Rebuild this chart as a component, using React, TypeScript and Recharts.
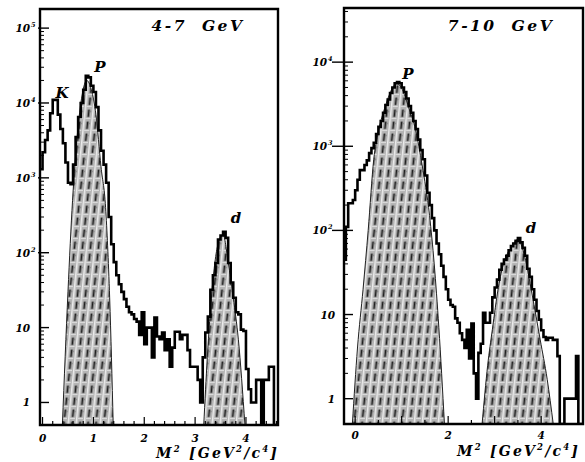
import React from "react";
import { Area, ComposedChart, Line, ReferenceArea, XAxis, YAxis } from "recharts";

const BIN = 0.05;

// 4-7 GeV panel: counts per bin, first bin starts at LEFT_START
const LEFT_START = -0.05;
const leftCounts = [
  1300, 2200, 3200, 4300, 7300, 11000, 11000, 7000, 4500, 2900,
  1600, 860, 820, 1500, 3500, 6500, 10000, 15000, 23000, 22000,
  17000, 14000, 8800, 4300, 2300, 1500, 860, 300, 130, 75,
  50, 38, 30, 24, 19, 16, 15, 13, 12, 8,
  16, 6, 10, 10, 4, 13.6, 7.6, 7, 8.6, 5,
  7, 3, 5.4, 8.8, 8.8, 7, 8, 8, 5, 3,
  3, 3, 2, 1, 4, 8.6, 14, 32, 50, 73,
  150, 170, 190, 158, 73, 40, 25, 16, 15, 9.4,
  9, 2.8, 1.5, 1, 1, 2, 2, 0, 2, 2,
  3, 3, 0, 0,
];
const leftPFillX = [0.39, 0.5, 0.59, 0.68, 0.78, 0.87, 0.96, 1.05, 1.15, 1.24, 1.32, 1.39];
const leftPFillY = [0.5, 30, 500, 3500, 13000, 20000, 15000, 7000, 1400, 400, 25, 0.5];
const leftDFillX = [3.17, 3.24, 3.33, 3.45, 3.55, 3.65, 3.75, 3.85, 3.98];
const leftDFillY = [0.5, 4, 30, 130, 175, 75, 25, 7, 0.5];

// 7-10 GeV panel
const RIGHT_START = -0.25;
const rightCounts = [
  45, 110, 210, 210, 230, 300, 400, 520, 520, 600,
  680, 830, 950, 1100, 1400, 1700, 2000, 2500, 3100, 3600,
  4300, 5000, 5600, 5800, 5600, 5000, 4400, 3700, 3000, 2500,
  2000, 1600, 1200, 900, 700, 450, 280, 200, 140, 100,
  70, 52, 38, 28, 20, 15, 13, 12.4, 9, 8,
  6, 5, 4, 6.6, 3, 7.8, 2, 1, 3.5, 4.5,
  10.5, 8, 8, 10.5, 16, 21, 26, 34, 40, 45,
  50, 58, 65, 70, 75, 81, 72, 62, 50, 35,
  28, 20, 15, 11, 8.7, 6.5, 5.4, 5, 5.3, 5.3,
  5, 5, 3.2, 0, 0, 1, 1, 1, 1, 1,
  3.2, 0, 0,
];
const rightPFillX = [-0.06, 0.05, 0.17, 0.28, 0.4, 0.5, 0.65, 0.8, 0.9, 1.0, 1.15, 1.3, 1.44, 1.6, 1.7, 1.8, 1.92];
const rightPFillY = [0.5, 4, 20, 100, 700, 1500, 3000, 4900, 5600, 4900, 2900, 1550, 600, 150, 40, 7, 0.5];
const rightDFillX = [2.73, 2.85, 2.95, 3.08, 3.2, 3.35, 3.5, 3.65, 3.8, 3.98, 4.13, 4.26];
const rightDFillY = [0.5, 2.5, 6.6, 21, 42, 62, 78, 48, 18, 5, 1.7, 0.5];

const leftXTicks = [0, 0.2, 0.4, 0.6, 0.8, 1, 1.2, 1.4, 1.6, 1.8, 2, 2.2, 2.4, 2.6, 2.8, 3, 3.2, 3.4, 3.6, 3.8, 4, 4.2, 4.4, 4.6];
const leftXLabels = [0, 1, 2, 3, 4];
const rightXTicks = [0, 0.5, 1, 1.5, 2, 2.5, 3, 3.5, 4, 4.5];
const rightXLabels = [0, 2, 4];

const FONT = "'DejaVu Serif', 'Liberation Serif', serif";

type Pt = { x: number; v: number };

function logTicks(maxExp: number, top: number) {
  const out: number[] = [];
  for (let e = 0; e <= maxExp; e++) {
    for (let m = 1; m <= 9; m++) {
      const v = m * 10 ** e;
      if (v <= top) out.push(v);
    }
  }
  return out;
}

function histData(start: number, counts: number[], floor: number): Pt[] {
  const pts = counts.map((c, i) => ({ x: start + i * BIN, v: Math.max(c, floor) }));
  pts.push({ x: start + counts.length * BIN, v: Math.max(counts[counts.length - 1], floor) });
  return pts;
}

function pairs(xs: number[], ys: number[]): Pt[] {
  return xs.map((x, i) => ({ x, v: ys[i] }));
}

type YCfg = { plainEnd: number; powEnd: number; outer: number };

function YTick(props: any) {
  const { x, y, payload, cfg } = props;
  const v = payload.value as number;
  const e = Math.round(Math.log10(v));
  const major = Math.abs(v / 10 ** e - 1) < 1e-6;
  if (!major) {
    return <line x1={x} x2={x + 4} y1={y} y2={y} stroke="#000" strokeWidth={1} />;
  }
  const c = cfg as YCfg;
  const txt = { fontFamily: FONT, fontStyle: "italic", fontWeight: 700, fill: "#000" } as const;
  return (
    <g>
      <line x1={x - (e >= 2 ? c.outer : 0)} x2={x + 9} y1={y} y2={y} stroke="#000" strokeWidth={1.4} />
      {e < 2 ? (
        <text x={x - c.plainEnd} y={y + 4} textAnchor="end" fontSize={10.5} style={txt}>
          {e === 0 ? "1" : "10"}
        </text>
      ) : (
        <>
          <text x={x - c.powEnd} y={y + 4} textAnchor="end" fontSize={10.5} style={txt}>10</text>
          <text x={x - c.powEnd + 1} y={y - 1} fontSize={6.5} style={txt}>{e}</text>
        </>
      )}
    </g>
  );
}

function XTick(props: any) {
  const { x, y, payload, labels, dy, majorLen } = props;
  const v = payload.value as number;
  const lab = (labels as number[]).some((l) => Math.abs(l - v) < 1e-6);
  const isInt = Math.abs(v - Math.round(v)) < 1e-6;
  return (
    <g>
      <line x1={x} x2={x} y1={y} y2={y - (isInt ? majorLen : 4)} stroke="#000" strokeWidth={1.2} />
      {lab && (
        <text x={x} y={y + dy} textAnchor="middle" fontSize={10.5}
          style={{ fontFamily: FONT, fontStyle: "italic", fontWeight: 700 }}>
          {Math.round(v)}
        </text>
      )}
    </g>
  );
}

type PanelProps = {
  width: number;
  margin: { top: number; right: number; bottom: number; left: number };
  yWidth: number;
  xDomain: [number, number];
  yDomain: [number, number];
  xTicks: number[];
  xLabels: number[];
  xLabelDy: number;
  yTicks: number[];
  yCfg: YCfg;
  hist: Pt[];
  fills: Pt[][];
};

function Panel(p: PanelProps) {
  return (
    <ComposedChart width={p.width} height={462} margin={p.margin}>
      <XAxis
        type="number"
        dataKey="x"
        domain={p.xDomain}
        allowDataOverflow
        ticks={p.xTicks}
        interval={0}
        height={30}
        axisLine={false}
        tickLine={false}
        tickSize={0}
        tickMargin={0}
        tick={(t: any) => <XTick {...t} labels={p.xLabels} dy={p.xLabelDy} majorLen={8} />}
      />
      <YAxis
        type="number"
        scale="log"
        domain={p.yDomain}
        allowDataOverflow
        ticks={p.yTicks}
        interval={0}
        width={p.yWidth}
        axisLine={false}
        tickLine={false}
        tickSize={0}
        tickMargin={0}
        tick={(t: any) => <YTick {...t} cfg={p.yCfg} />}
      />
      {p.fills.map((f, i) => (
        <Area
          key={i}
          data={f}
          dataKey="v"
          type="monotone"
          baseValue={p.yDomain[0]}
          fill="url(#hatch)"
          fillOpacity={1}
          stroke="#222"
          strokeWidth={1}
          isAnimationActive={false}
        />
      ))}
      <Line
        data={p.hist}
        dataKey="v"
        type="stepAfter"
        stroke="#000"
        strokeWidth={2.6}
        dot={false}
        activeDot={false}
        isAnimationActive={false}
      />
      <ReferenceArea
        x1={p.xDomain[0]}
        x2={p.xDomain[1]}
        y1={p.yDomain[0]}
        y2={p.yDomain[1]}
        fill="none"
        stroke="#000"
        strokeWidth={2.4}
        ifOverflow="visible"
      />
    </ComposedChart>
  );
}

const label = { fontFamily: FONT, fontStyle: "italic", fontWeight: 700, fill: "#000" } as const;

function AxisTitle({ x, y }: { x: number; y: number }) {
  return (
    <text x={x} y={y} fontSize={14} letterSpacing={2.2} style={label}>
      M<tspan dy={-6} fontSize={8.5}>2</tspan>
      <tspan dy={6}> [GeV</tspan>
      <tspan dy={-6} fontSize={8.5}>2</tspan>
      <tspan dy={6}>/c</tspan>
      <tspan dy={-6} fontSize={8.5}>4</tspan>
      <tspan dy={6}>]</tspan>
    </text>
  );
}

export default function App() {
  const leftY: [number, number] = [0.5, 1.8e5];
  const rightY: [number, number] = [0.5, 4.4e4];
  return (
    <div style={{ position: "absolute", left: 0, top: 0, width: 585, height: 462, background: "#fff", overflow: "hidden" }}>
      <svg width={0} height={0} style={{ position: "absolute" }}>
        <defs>
          <pattern id="hatch" width="8" height="12" patternUnits="userSpaceOnUse" patternTransform="skewX(-6)">
            <rect width="8" height="12" fill="#b4b4b4" />
            <rect x="0" y="0" width="1.5" height="12" fill="#ececec" />
            <rect x="2" y="10" width="5" height="1" fill="#e2e2e2" />
            <rect x="6" y="3" width="1" height="1" fill="#7a7a7a" />
            <line x1="4.5" y1="1.5" x2="4.5" y2="9" stroke="#1e1e1e" strokeWidth="1.8" />
          </pattern>
        </defs>
      </svg>
      <div style={{ position: "absolute", left: 0, top: 0 }}>
        <Panel
          width={290}
          margin={{ top: 9, right: 12, bottom: 7, left: 0 }}
          yWidth={40}
          xDomain={[-0.05, 4.63]}
          yDomain={leftY}
          xTicks={leftXTicks}
          xLabels={leftXLabels}
          xLabelDy={17}
          yTicks={logTicks(5, leftY[1])}
          yCfg={{ plainEnd: 10, powEnd: 10, outer: 2 }}
          hist={histData(LEFT_START, leftCounts, leftY[0])}
          fills={[pairs(leftPFillX, leftPFillY), pairs(leftDFillX, leftDFillY)]}
        />
      </div>
      <div style={{ position: "absolute", left: 290, top: 0 }}>
        <Panel
          width={295}
          margin={{ top: 8, right: 2, bottom: 8, left: 0 }}
          yWidth={54}
          xDomain={[-0.24, 4.9]}
          yDomain={rightY}
          xTicks={rightXTicks}
          xLabels={rightXLabels}
          xLabelDy={15}
          yTicks={logTicks(4, rightY[1])}
          yCfg={{ plainEnd: 9, powEnd: 17, outer: 12 }}
          hist={histData(RIGHT_START, rightCounts, rightY[0])}
          fills={[pairs(rightPFillX, rightPFillY), pairs(rightDFillX, rightDFillY)]}
        />
      </div>
      <svg width={585} height={462} style={{ position: "absolute", left: 0, top: 0, pointerEvents: "none" }}>
        <text x={198} y={31} textAnchor="middle" fontSize={15.5} letterSpacing={2.5} wordSpacing={7} style={label}>4-7 GeV</text>
        <text x={501} y={31} textAnchor="middle" fontSize={15.5} letterSpacing={2.5} wordSpacing={7} style={label}>7-10 GeV</text>
        <text x={62} y={98} textAnchor="middle" fontSize={15} style={label}>K</text>
        <text x={100} y={72} textAnchor="middle" fontSize={15} style={label}>P</text>
        <text x={236} y={223} textAnchor="middle" fontSize={15} style={label}>d</text>
        <text x={408} y={79} textAnchor="middle" fontSize={15} style={label}>P</text>
        <text x={531} y={233} textAnchor="middle" fontSize={15} style={label}>d</text>
        <AxisTitle x={156} y={458} />
        <AxisTitle x={457} y={456} />
      </svg>
    </div>
  );
}
